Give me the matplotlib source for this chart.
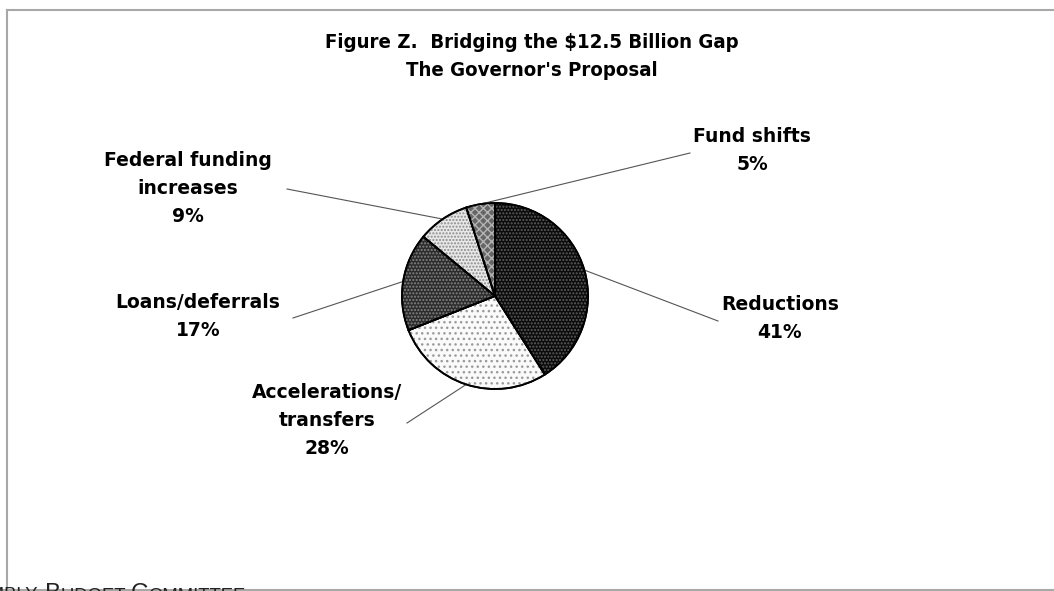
import matplotlib
matplotlib.use("Agg")
import matplotlib.pyplot as plt
from matplotlib.patches import Wedge
from matplotlib import font_manager
import numpy as np

# ---- data ----
categories = ["Reductions", "Accelerations/\ntransfers", "Loans/deferrals",
              "Federal funding\nincreases", "Fund shifts"]
values = [41, 28, 17, 9, 5]
title_lines = ["Figure Z.  Bridging the $12.5 Billion Gap", "The Governor's Proposal"]
footer = "ASSEMBLY BUDGET COMMITTEE"

# ---- styles / layout ----
face_colors = ["#0c0c0c", "#fafafa", "#2c2c2c", "#e8e8e8", "#666666"]
hatch_colors = ["#5e5e5e", "#9a9a9a", "#858585", "#8a8a8a", "#b4b4b4"]
hatches = [".....", "...", ".....", ".....", "xxxx"]
# label center x, first-line y (pixels from top), leader start (px)
label_pos = [(780, 304), (327, 392), (198, 302), (188, 161), (752, 136)]
leader_start = [(718, 321), (407, 423), (293, 318), (287, 189), (690, 153)]
line_step = 28

W, H = 1054, 591
FONT = "DejaVu Sans"

# check whether a condensed bold DejaVu face exists
has_cond = any(("DejaVuSansCondensed-Bold" in f.fname) for f in font_manager.fontManager.ttflist)
title_kw = dict(fontsize=14.6, fontstretch="condensed") if has_cond else dict(fontsize=13.2)

def Y(y):
    return H - y

fig = plt.figure(figsize=(W / 100, H / 100), dpi=100)
ax = fig.add_axes([0, 0, 1, 1])

cx, cy, R = 495, 296, 93
wedges, _ = ax.pie(values, colors=face_colors, startangle=90, counterclock=False,
                   center=(cx, Y(cy)), radius=R,
                   wedgeprops=dict(edgecolor="black", linewidth=1.3))
plt.rcParams["hatch.linewidth"] = 1.0
for w, hc, h in zip(wedges, hatch_colors, hatches):
    hw = Wedge(w.center, w.r, w.theta1, w.theta2, fill=False, hatch=h,
               edgecolor=hc, linewidth=0, zorder=w.get_zorder() + 0.1)
    ax.add_patch(hw)
    ol = Wedge(w.center, w.r, w.theta1, w.theta2, fill=False,
               edgecolor="black", linewidth=1.3, zorder=w.get_zorder() + 0.2)
    ax.add_patch(ol)

ax.set_xlim(0, W)
ax.set_ylim(0, H)
ax.set_aspect("auto")
ax.axis("off")

# labels + leader lines
for w, cat, v, (lx, ly), (sx, sy) in zip(wedges, categories, values, label_pos, leader_start):
    lines = cat.split("\n") + [f"{v}%"]
    for i, t in enumerate(lines):
        ax.text(lx, Y(ly + i * line_step), t, ha="center", va="center",
                fontsize=13.5, fontweight="bold", family=FONT, color="black")
    ang = np.deg2rad((w.theta1 + w.theta2) / 2)
    ex, ey = w.center[0] + w.r * np.cos(ang), w.center[1] + w.r * np.sin(ang)
    ax.plot([sx, ex], [Y(sy), ey], color="#555555", lw=0.8, zorder=1)

# title
for i, t in enumerate(title_lines):
    ax.text(532, Y(42 + i * 28), t, ha="center", va="center",
            fontweight="bold", family=FONT, color="black", **title_kw)

# border
ax.plot([7, W], [Y(10), Y(10)], color="#a8a8a8", lw=1.5, clip_on=False)
ax.plot([7, 7], [Y(10), Y(589)], color="#a8a8a8", lw=1.5, clip_on=False)
ax.plot([0, W], [Y(589.5), Y(589.5)], color="#a8a8a8", lw=1.5, clip_on=False)

# footer in small caps, partially cut off at the bottom edge
big, small = 17.5, 13.3
fbase = Y(600)
words = footer.split(" ")
ax.text(38, fbase, words[0][1:], ha="right", va="baseline", fontsize=small,
        family="Liberation Sans", color="#222222")
prev = None
x0 = 45
for wi, word in enumerate(words[1:]):
    pieces = [(word[0], big), (word[1:] + (" " if wi < len(words) - 2 else ""), small)]
    for txt, fs in pieces:
        if prev is None:
            prev = ax.text(x0, fbase, txt, ha="left", va="baseline", fontsize=fs,
                           family="Liberation Sans", color="#222222")
        else:
            prev = ax.annotate(txt, xy=(1, 0), xycoords=prev, xytext=(0, 0),
                               textcoords="offset points", ha="left", va="bottom",
                               fontsize=fs, family="Liberation Sans", color="#222222")

fig.savefig("out.png", dpi=100)
